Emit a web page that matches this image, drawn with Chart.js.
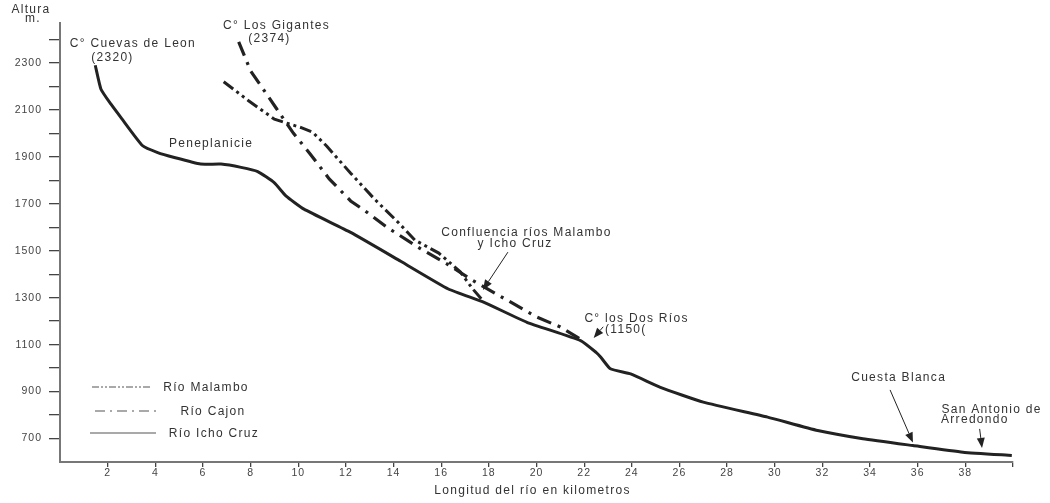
<!DOCTYPE html>
<html>
<head>
<meta charset="utf-8">
<script src="https://cdn.jsdelivr.net/npm/chart.js@4.4.1/dist/chart.umd.min.js"></script>
<style>
  html, body { margin: 0; padding: 0; background: #fff; }
  canvas { display: block; }
</style>
</head>
<body>
<canvas id="perfilChart" width="1050" height="503"></canvas>
<script>
// Perfil longitudinal
const ichoKm  = [1.48, 1.72, 2.14, 2.56, 3.47, 4.1, 4.8, 5.9, 6.76, 7.6, 8.3, 8.99, 9.48, 10.24, 12.2, 14.3, 16.3, 17.8, 19.6, 21.85, 22.5, 22.7, 23.1, 23.95, 25.2, 27.0, 29.7, 31.8, 33.7, 35.8, 37.9, 39.95];
const ichoAlt = [2290, 2188, 2124, 2067, 1947, 1918, 1897, 1869, 1869, 1855, 1837, 1790, 1734, 1677, 1578, 1455, 1337, 1280, 1195, 1117, 1067, 1046, 997, 975, 918, 855, 791, 734, 699, 670, 642, 628];

const cajonKm  = [7.5, 8.0, 9.07, 9.8, 10.5, 11.3, 12.2, 12.8, 13.75, 15.14, 16.3, 17.3, 18.5, 20.0, 21.0, 21.9];
const cajonAlt = [2390, 2266, 2108, 2000, 1912, 1806, 1712, 1670, 1598, 1508, 1440, 1375, 1305, 1218, 1175, 1120];

const malamboKm  = [6.87, 7.9, 9.0, 10.1, 10.6, 11.2, 12.2, 13.2, 14.2, 14.9, 15.9, 16.8, 17.3, 17.8];
const malamboAlt = [2220, 2140, 2060, 2025, 2005, 1945, 1830, 1720, 1620, 1545, 1490, 1410, 1340, 1282];

const seriesNames = ['Río Malambo', 'Río Cajon', 'Río Icho Cruz'];

const xTicks = [2, 4, 6, 8, 10, 12, 14, 16, 18, 20, 22, 24, 26, 28, 30, 32, 34, 36, 38, 40];
const xLabelled = [2, 4, 6, 8, 10, 12, 14, 16, 18, 20, 22, 24, 26, 28, 30, 32, 34, 36, 38];
const yTicks = [700, 800, 900, 1000, 1100, 1200, 1300, 1400, 1500, 1600, 1700, 1800, 1900, 2000, 2100, 2200, 2300, 2400];
const yLabelled = [700, 900, 1100, 1300, 1500, 1700, 1900, 2100, 2300];

const FONT = '"Liberation Sans", Arial, sans-serif';
const INK = '#222';
const TEXT = '#333';

function toPoints(xs, ys) {
    return xs.map((x, i) => ({ x: x, y: ys[i] }));
}

// Text labels and arrows, placed in axis units
const notes = [
    { text: 'C° Cuevas de Leon', x: 3.06, y: 2381 },
    { text: '(2320)', x: 2.2, y: 2321 },
    { text: 'C° Los Gigantes', x: 9.09, y: 2457 },
    { text: '(2374)', x: 8.79, y: 2402 },
    { text: 'Peneplanicie', x: 6.34, y: 1955 },
    { text: 'Confluencia ríos Malambo', x: 19.58, y: 1576 },
    { text: 'y Icho Cruz', x: 19.1, y: 1529 },
    { text: 'C° los Dos Ríos', x: 24.2, y: 1209 },
    { text: '(1150(', x: 23.75, y: 1162 },
    { text: 'Cuesta Blanca', x: 35.2, y: 958 },
    { text: 'San Antonio de', x: 39.1, y: 821 },
    { text: 'Arredondo', x: 38.4, y: 779 }
];
const arrows = [
    { from: [18.8, 1494], to: [17.75, 1333] },
    { from: [22.8, 1176], to: [22.4, 1128] },
    { from: [34.84, 907], to: [35.8, 683] },
    { from: [38.6, 741], to: [38.7, 660] }
];

function drawArrow(ctx, x1, y1, x2, y2) {
    const ang = Math.atan2(y2 - y1, x2 - x1);
    const len = 10, half = 4;
    const bx = x2 - len * Math.cos(ang), by = y2 - len * Math.sin(ang);
    ctx.beginPath();
    ctx.moveTo(x1, y1);
    ctx.lineTo(bx, by);
    ctx.stroke();
    ctx.beginPath();
    ctx.moveTo(x2, y2);
    ctx.lineTo(bx + half * Math.sin(ang), by - half * Math.cos(ang));
    ctx.lineTo(bx - half * Math.sin(ang), by + half * Math.cos(ang));
    ctx.closePath();
    ctx.fill();
}

const spacingPlugin = {
    id: 'spacing',
    beforeDraw(chart) {
        chart.ctx.letterSpacing = '1px';
    }
};

const decorPlugin = {
    id: 'decor',
    afterDraw(chart) {
        const ctx = chart.ctx;
        const xs = chart.scales.x, ys = chart.scales.y;
        ctx.save();
        ctx.fillStyle = TEXT;
        ctx.font = '12px ' + FONT;
        ctx.letterSpacing = '1.3px';
        ctx.textAlign = 'center';
        ctx.textBaseline = 'middle';

        // axis titles
        ctx.fillText('Altura', 31, 10);
        ctx.fillText('m.', 33, 19);
        ctx.fillText('Longitud del río en kilometros', (xs.left + xs.right) / 2 - 4, 491);

        notes.forEach(n => {
            ctx.fillText(n.text, xs.getPixelForValue(n.x), ys.getPixelForValue(n.y));
        });

        ctx.strokeStyle = INK;
        ctx.fillStyle = INK;
        ctx.lineWidth = 1;
        arrows.forEach(a => {
            drawArrow(ctx,
                xs.getPixelForValue(a.from[0]), ys.getPixelForValue(a.from[1]),
                xs.getPixelForValue(a.to[0]), ys.getPixelForValue(a.to[1]));
        });

        // legend, bottom left
        const rows = [
            { y: 387, x1: 92, x2: 151, tx: 206, dash: [7, 2, 2, 2, 2, 2] },
            { y: 411, x1: 95, x2: 157, tx: 213, dash: [10, 5, 2, 5] },
            { y: 433, x1: 90, x2: 156, tx: 214, dash: [] }
        ];
        rows.forEach((r, i) => {
            ctx.strokeStyle = '#555';
            ctx.lineWidth = 1.2;
            ctx.setLineDash(r.dash);
            ctx.beginPath();
            ctx.moveTo(r.x1, r.y);
            ctx.lineTo(r.x2, r.y);
            ctx.stroke();
            ctx.setLineDash([]);
            ctx.fillStyle = TEXT;
            ctx.fillText(seriesNames[i], r.tx, r.y + 1);
        });
        ctx.restore();
    }
};

const ctx = document.getElementById('perfilChart').getContext('2d');
new Chart(ctx, {
    type: 'line',
    data: {
        datasets: [
            {
                label: seriesNames[0],
                data: toPoints(malamboKm, malamboAlt),
                borderColor: INK,
                borderWidth: 3,
                borderDash: [12, 4, 3, 4, 3, 4],
                pointRadius: 0,
                tension: 0
            },
            {
                label: seriesNames[1],
                data: toPoints(cajonKm, cajonAlt),
                borderColor: INK,
                borderWidth: 3.2,
                borderDash: [15, 7, 3, 7],
                pointRadius: 0,
                tension: 0
            },
            {
                label: seriesNames[2],
                data: toPoints(ichoKm, ichoAlt),
                borderColor: INK,
                borderWidth: 3,
                pointRadius: 0,
                tension: 0.15
            }
        ]
    },
    options: {
        responsive: false,
        animation: false,
        layout: { padding: { top: 23, right: 37, left: 0, bottom: 0 } },
        plugins: {
            legend: { display: false },
            tooltip: { enabled: false }
        },
        scales: {
            x: {
                type: 'linear',
                min: 0,
                max: 40,
                afterBuildTicks: axis => { axis.ticks = xTicks.map(v => ({ value: v })); },
                afterFit: scale => { scale.height = 41; },
                grid: { drawOnChartArea: false, tickLength: 5, color: '#444', lineWidth: 1.3 },
                border: { color: '#777', width: 2 },
                ticks: {
                    padding: 0,
                    color: '#444',
                    font: { family: FONT, size: 10.5 },
                    maxRotation: 0,
                    autoSkip: false,
                    callback: v => xLabelled.includes(v) ? String(v) : ''
                }
            },
            y: {
                min: 600,
                max: 2470,
                afterBuildTicks: axis => { axis.ticks = yTicks.map(v => ({ value: v })); },
                afterFit: scale => { scale.width = 60; },
                grid: { drawOnChartArea: false, tickLength: 11, color: '#444', lineWidth: 1.3 },
                border: { color: '#777', width: 2 },
                ticks: {
                    padding: 7,
                    color: '#444',
                    font: { family: FONT, size: 10.5 },
                    autoSkip: false,
                    callback: v => yLabelled.includes(v) ? String(v) : ''
                }
            }
        }
    },
    plugins: [spacingPlugin, decorPlugin]
});
</script>
</body>
</html>
